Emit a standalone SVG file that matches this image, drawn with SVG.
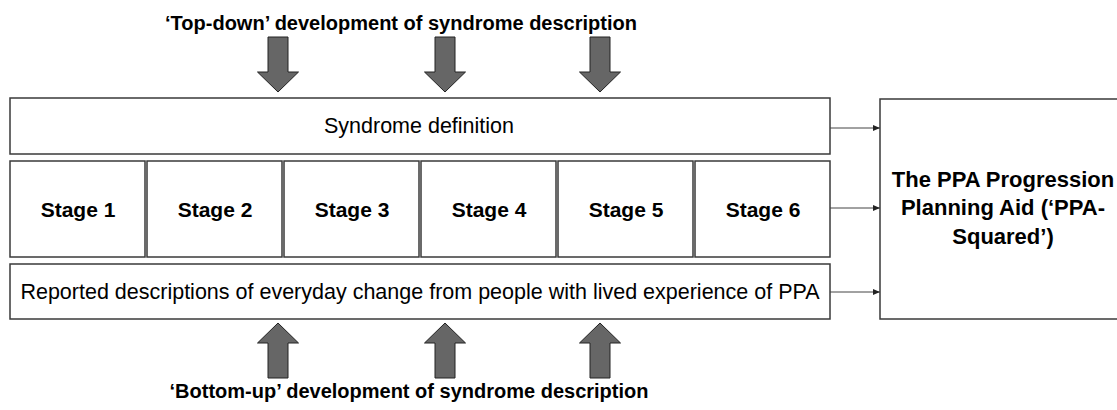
<svg xmlns="http://www.w3.org/2000/svg" width="1117" height="410" viewBox="0 0 1117 410">
<style>
.box{fill:#fff;stroke:#3a3a3a;stroke-width:1.5}
.big{fill:#666;stroke:#222;stroke-width:1}
.t{font-family:"Liberation Sans",Arial,sans-serif;font-size:21.5px;fill:#000;text-anchor:middle}
.b{font-weight:bold}
.h{font-size:20px}
.s{font-size:21px}
.p{font-size:22px}
.c{stroke:#444;stroke-width:1;fill:none}
</style>
<defs>
<marker id="ah" markerWidth="8" markerHeight="8" refX="7" refY="4" orient="auto" markerUnits="userSpaceOnUse">
<path d="M0,1 L7,4 L0,7 Z" fill="#222"/>
</marker>
<path id="down" d="M-10,0 H10 V35 H20.5 L0,55 L-20.5,35 H-10 Z"/>
</defs>
<text class="t b h" x="401" y="30">‘Top-down’ development of syndrome description</text>
<text class="t b h" x="409" y="398">‘Bottom-up’ development of syndrome description</text>
<g id="top-arrows">
<use href="#down" class="big" x="278" y="37"/>
<use href="#down" class="big" x="445" y="37"/>
<use href="#down" class="big" x="600" y="37"/>
</g>
<g id="bottom-arrows">
<use href="#down" class="big" transform="translate(278,378) scale(1,-1)"/>
<use href="#down" class="big" transform="translate(445,378) scale(1,-1)"/>
<use href="#down" class="big" transform="translate(600,378) scale(1,-1)"/>
</g>
<g id="syndrome">
<rect class="box" x="10" y="98" width="820" height="56"/>
<text class="t" x="419" y="133">Syndrome definition</text>
</g>
<g id="stage1"><rect class="box" x="10" y="161" width="135" height="96"/><text class="t b s" x="78" y="217">Stage 1</text></g>
<g id="stage2"><rect class="box" x="147" y="161" width="135" height="96"/><text class="t b s" x="215" y="217">Stage 2</text></g>
<g id="stage3"><rect class="box" x="284" y="161" width="135" height="96"/><text class="t b s" x="352" y="217">Stage 3</text></g>
<g id="stage4"><rect class="box" x="421" y="161" width="135" height="96"/><text class="t b s" x="489" y="217">Stage 4</text></g>
<g id="stage5"><rect class="box" x="558" y="161" width="135" height="96"/><text class="t b s" x="626" y="217">Stage 5</text></g>
<g id="stage6"><rect class="box" x="695" y="161" width="135" height="96"/><text class="t b s" x="763" y="217">Stage 6</text></g>
<g id="reported">
<rect class="box" x="10" y="264" width="820" height="55"/>
<text class="t" x="420" y="299">Reported descriptions of everyday change from people with lived experience of PPA</text>
</g>
<g id="ppa">
<rect class="box" x="880" y="99" width="240" height="220"/>
<text class="t b p" x="1003" y="187">The PPA Progression</text>
<text class="t b p" x="1003" y="215">Planning Aid (‘PPA-</text>
<text class="t b p" x="1003" y="244">Squared’)</text>
</g>
<g id="connectors">
<line class="c" x1="830" y1="128" x2="880" y2="128" marker-end="url(#ah)"/>
<line class="c" x1="830" y1="208" x2="880" y2="208" marker-end="url(#ah)"/>
<line class="c" x1="830" y1="292" x2="880" y2="292" marker-end="url(#ah)"/>
</g>
</svg>
